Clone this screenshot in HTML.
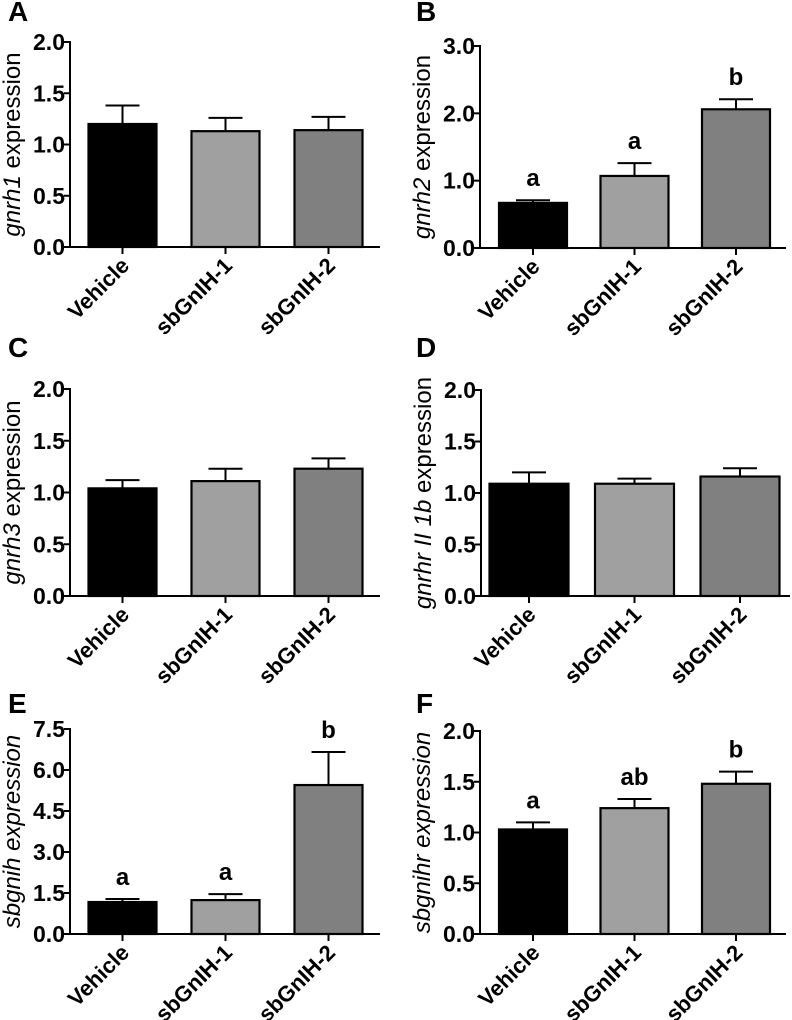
<!DOCTYPE html>
<html><head><meta charset="utf-8">
<style>
html,body{margin:0;padding:0;background:#fff;}
svg{display:block;font-family:"Liberation Sans",Arial,sans-serif;}
</style></head>
<body>
<svg id="fig" width="792" height="1020" viewBox="0 0 792 1020" xmlns="http://www.w3.org/2000/svg"></svg>
<script>
const categories = ["Vehicle", "sbGnIH-1", "sbGnIH-2"];
const valuesA = [1.20, 1.13, 1.14];
const errorsA = [1.38, 1.26, 1.27];
const valuesB = [0.67, 1.07, 2.06];
const errorsB = [0.71, 1.26, 2.21];
const lettersB = ["a", "a", "b"];
const valuesC = [1.04, 1.11, 1.23];
const errorsC = [1.12, 1.23, 1.33];
const valuesD = [1.09, 1.09, 1.16];
const errorsD = [1.20, 1.14, 1.24];
const valuesE = [1.17, 1.24, 5.45];
const errorsE = [1.28, 1.46, 6.66];
const lettersE = ["a", "a", "b"];
const valuesF = [1.03, 1.24, 1.48];
const errorsF = [1.10, 1.33, 1.60];
const lettersF = ["a", "ab", "b"];
const ticks2 = ["0.0", "0.5", "1.0", "1.5", "2.0"];
const ticks3 = ["0.0", "1.0", "2.0", "3.0"];
const ticks75 = ["0.0", "1.5", "3.0", "4.5", "6.0", "7.5"];

const NS = "http://www.w3.org/2000/svg";
const svg = document.getElementById("fig");
const fills = ["#000000", "#a0a0a0", "#808080"];

function mk(tag, attrs, parent) {
  const e = document.createElementNS(NS, tag);
  for (const k in attrs) e.setAttribute(k, attrs[k]);
  (parent || svg).appendChild(e);
  return e;
}

function panel(cfg) {
  const g = mk("g", {});
  
  
  const L = cfg.ax, T = cfg.top, B = cfg.bottom, R = cfg.right;
  const maxV = parseFloat(cfg.ticks[cfg.ticks.length - 1]);
  const y = v => B - (v / maxV) * (B - T);
  const xc = i => cfg.bx0 + i * cfg.step;
  const hw = (cfg.bw || 68) / 2;

  const lt = mk("text", {x: cfg.lx, y: cfg.ly, "font-size": 28, "font-weight": "bold"}, g);
  lt.textContent = cfg.letter;
  
  

  categories.forEach((c, i) => {
    const v = cfg.values[i], e = cfg.errors[i];
    const cx = xc(i);
    const eb = mk("g", {}, g);
    
    
    mk("line", {x1: cx, x2: cx, y1: y(v), y2: y(e), stroke: "#000", "stroke-width": 2}, eb);
    mk("line", {x1: cx - 17, x2: cx + 17, y1: y(e), y2: y(e), stroke: "#000", "stroke-width": 2}, eb);
    const r = mk("rect", {x: cx - hw, y: y(v), width: 2 * hw, height: B - y(v), fill: fills[i], stroke: "#000", "stroke-width": 2.2}, g);
    
    
    if (cfg.letters) {
      const t = mk("text", {x: cx, y: y(e) - 14, "font-size": 24, "font-weight": "bold", "text-anchor": "middle"}, g);
      t.textContent = cfg.letters[i];
      
      
    }
    mk("line", {x1: cx, x2: cx, y1: B, y2: B + 7, stroke: "#000", "stroke-width": 2}, g);
    const ax = cx + 8, ay = B + 20;
    const xl = mk("text", {x: ax, y: ay, "font-size": 22, "font-weight": "bold", "text-anchor": "end",
      transform: "rotate(-45 " + ax + " " + ay + ")"}, g);
    xl.textContent = c;
    
    
  });

  const ya = mk("line", {x1: L, x2: L, y1: T - 1, y2: B + 1, stroke: "#000", "stroke-width": 2}, g);
  
  
  const xa = mk("line", {x1: L - 1, x2: R, y1: B, y2: B, stroke: "#000", "stroke-width": 2}, g);
  
  

  cfg.ticks.forEach(tk => {
    const ty = y(parseFloat(tk));
    mk("line", {x1: L - 6, x2: L, y1: ty, y2: ty, stroke: "#000", "stroke-width": 2}, g);
    const t = mk("text", {x: L - 5, y: ty + 8, "font-size": 23, "font-weight": "bold", "text-anchor": "end"}, g);
    t.textContent = tk;
    
    
  });

  const my = (T + B) / 2, tx = L - 50;
  const yt = mk("text", {x: tx, y: my, "font-size": 24, "text-anchor": "middle", transform: "rotate(-90 " + tx + " " + my + ")"}, g);
  
  
  const it = mk("tspan", {"font-style": "italic"}, yt);
  it.textContent = cfg.gene;
  const rest = mk("tspan", {"font-style": cfg.allItalic ? "italic" : "normal"}, yt);
  rest.textContent = " expression";
}

const leftCol = {ax: 70, right: 380, bx0: 122.5, step: 103, lx: 8};
const rightCol = {ax: 480, right: 786, bx0: 533, step: 101.5, lx: 416};

panel(Object.assign({}, leftCol, {letter: "A", ly: 21, top: 42, bottom: 247, ticks: ticks2, values: valuesA, errors: errorsA, gene: "gnrh1"}));
panel(Object.assign({}, rightCol, {letter: "B", ly: 21, top: 46, bottom: 248, ticks: ticks3, values: valuesB, errors: errorsB, letters: lettersB, gene: "gnrh2"}));
panel(Object.assign({}, leftCol, {letter: "C", ly: 357, top: 389, bottom: 596, ticks: ticks2, values: valuesC, errors: errorsC, gene: "gnrh3"}));
panel(Object.assign({}, rightCol, {letter: "D", ly: 357, top: 390, bottom: 596, ax: 481, right: 790, bx0: 529, step: 105.5, bw: 79, ticks: ticks2, values: valuesD, errors: errorsD, gene: "gnrhr II 1b"}));
panel(Object.assign({}, leftCol, {letter: "E", ly: 713, top: 729, bottom: 934, ticks: ticks75, values: valuesE, errors: errorsE, letters: lettersE, gene: "sbgnih", allItalic: true}));
panel(Object.assign({}, rightCol, {letter: "F", ly: 713, top: 731, bottom: 934, ticks: ticks2, values: valuesF, errors: errorsF, letters: lettersF, gene: "sbgnihr", allItalic: true}));
</script>
</body></html>
